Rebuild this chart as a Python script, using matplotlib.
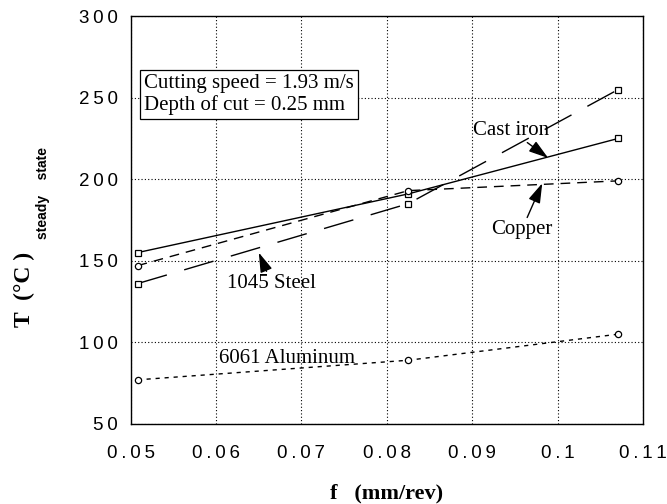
import matplotlib
matplotlib.use("Agg")
import matplotlib.pyplot as plt
from matplotlib.ticker import FuncFormatter

# feed rate (mm/rev)
feed = [0.0508, 0.0825, 0.1071]

# steady state temperature (C)
cast_iron = [155, 191, 225]
steel_1045 = [136, 185, 255]
copper = [147, 193, 199]
aluminum_6061 = [77, 89, 105]

x_ticks = [0.05, 0.06, 0.07, 0.08, 0.09, 0.1, 0.11]
y_ticks = [50, 100, 150, 200, 250, 300]

serif = ['Liberation Serif', 'DejaVu Serif']
sans = ['Liberation Sans', 'DejaVu Sans']


def spaced(v, pos):
    s = f"{v:g}"
    return "\u2009".join(s)


fig = plt.figure(figsize=(6.67, 5.04), dpi=100)
ax = fig.add_axes([0.196, 0.159, 0.768, 0.809])

ax.plot(feed, cast_iron, color='black', lw=1.0, ls='-',
        marker='s', ms=5, mfc='white', mec='black', mew=0.9, zorder=3)
ax.plot(feed, steel_1045, color='black', lw=1.0, ls=(0, (22, 13)),
        marker='s', ms=5, mfc='white', mec='black', mew=0.9, zorder=3)
ax.plot(feed, copper, color='black', lw=1.0, ls=(0, (7, 5)),
        marker='o', ms=4.5, mfc='white', mec='black', mew=0.9, zorder=4)
ax.plot(feed, aluminum_6061, color='black', lw=1.0, ls=(0, (3, 3.5)),
        marker='o', ms=4.5, mfc='white', mec='black', mew=0.9, zorder=4)

ax.set_xlim(0.05, 0.11)
ax.set_ylim(50, 300)
ax.set_xticks(x_ticks)
ax.set_yticks(y_ticks)
ax.xaxis.set_major_formatter(FuncFormatter(spaced))
ax.yaxis.set_major_formatter(FuncFormatter(spaced))
ax.tick_params(axis='both', length=0, labelsize=13.5)
ax.tick_params(axis='x', pad=15)
ax.tick_params(axis='y', pad=9)
for lab in ax.get_xticklabels() + ax.get_yticklabels():
    lab.set_family(sans)
ax.grid(True, color='black', ls=(0, (1, 2)), lw=0.8)
for sp in ax.spines.values():
    sp.set_linewidth(1.0)

ax.set_xlabel('f   (mm/rev)', fontsize=16, fontweight='bold', family=serif, labelpad=16)

# y label with subscript
fig.text(0.036, 0.352, 'T  (°C )', rotation=90, ha='center', va='bottom',
         fontsize=17, fontweight='bold', family=serif)
fig.text(0.064, 0.526, 'steady    state', rotation=90, ha='center', va='bottom',
         fontsize=10, fontweight='bold', family=sans)

ax.text(0.026, 0.858, 'Cutting speed = 1.93 m/s\nDepth of cut = 0.25 mm',
        transform=ax.transAxes, ha='left', va='top', fontsize=15, family=serif,
        linespacing=1.12,
        bbox=dict(boxstyle='square,pad=0.2', fc='white', ec='black', lw=0.9), zorder=5)

arrow = dict(arrowstyle='-|>,head_length=0.8,head_width=0.25', color='black', lw=1.0,
             shrinkA=0, shrinkB=0)
ax.annotate('Cast iron', xy=(0.0989, 213), xytext=(0.0945, 230),
            ha='center', va='center', fontsize=15, family=serif, arrowprops=arrow)
ax.annotate('Copper', xy=(0.0982, 197.5), xytext=(0.0958, 169),
            ha='center', va='center', fontsize=15, family=serif, arrowprops=arrow)
ax.annotate('1045 Steel', xy=(0.0650, 155), xytext=(0.0665, 136),
            ha='center', va='center', fontsize=15, family=serif, arrowprops=arrow)
ax.text(0.0683, 90, '6061 Aluminum', ha='center', va='center',
        fontsize=15, family=serif)

fig.savefig('out.png', dpi=100)
